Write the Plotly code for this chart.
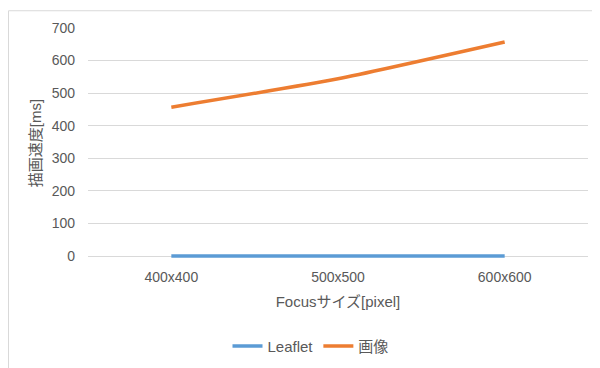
import plotly.graph_objects as go

categories = ["400x400", "500x500", "600x600"]
leaflet = [0, 0, 0]
gazou = [457, 544, 657]
y_ticks = [0, 100, 200, 300, 400, 500, 600, 700]

FONT = "'Liberation Sans', 'Noto Sans CJK JP', sans-serif"
TXT = "#595959"

fig = go.Figure()
fig.add_trace(go.Scatter(x=categories, y=leaflet, name="Leaflet", mode="lines",
                         line=dict(color="#5B9BD5", width=3.5, shape="spline")))
fig.add_trace(go.Scatter(x=categories, y=gazou, name="画像", mode="lines",
                         line=dict(color="#ED7D31", width=3.5, shape="spline", smoothing=0.5)))

fig.update_layout(
    width=600, height=368,
    margin=dict(l=80, r=20, t=18, b=118),
    paper_bgcolor="white", plot_bgcolor="white",
    font=dict(family=FONT, size=14, color=TXT),
    xaxis=dict(type="category", range=[-0.5, 2.5], showgrid=False, zeroline=False,
               showline=False, ticks="", ticklabelstandoff=9, tickfont=dict(size=14, color=TXT),
               title=dict(text="Focusサイズ[pixel]", font=dict(size=15, color=TXT), standoff=12)),
    yaxis=dict(range=[-6, 700], tickvals=y_ticks, showgrid=True, gridcolor="#D9D9D9",
               gridwidth=1, zeroline=True, zerolinecolor="#D9D9D9", zerolinewidth=1,
               showline=False, ticks="", ticklabelstandoff=12, tickfont=dict(size=14, color=TXT),
               title=dict(text="描画速度[ms]", font=dict(size=15, color=TXT), standoff=6)),
    legend=dict(orientation="h", x=0.445, xanchor="center", y=-0.384, yanchor="middle",
                font=dict(size=15, color=TXT), itemwidth=30, bgcolor="rgba(0,0,0,0)"),
    shapes=[dict(type="rect", xref="paper", yref="paper", x0=-0.159, x1=1.018,
                 y0=-0.6, y1=1.075, line=dict(color="#D9D9D9", width=1))],
)

fig.write_html("out.html")
